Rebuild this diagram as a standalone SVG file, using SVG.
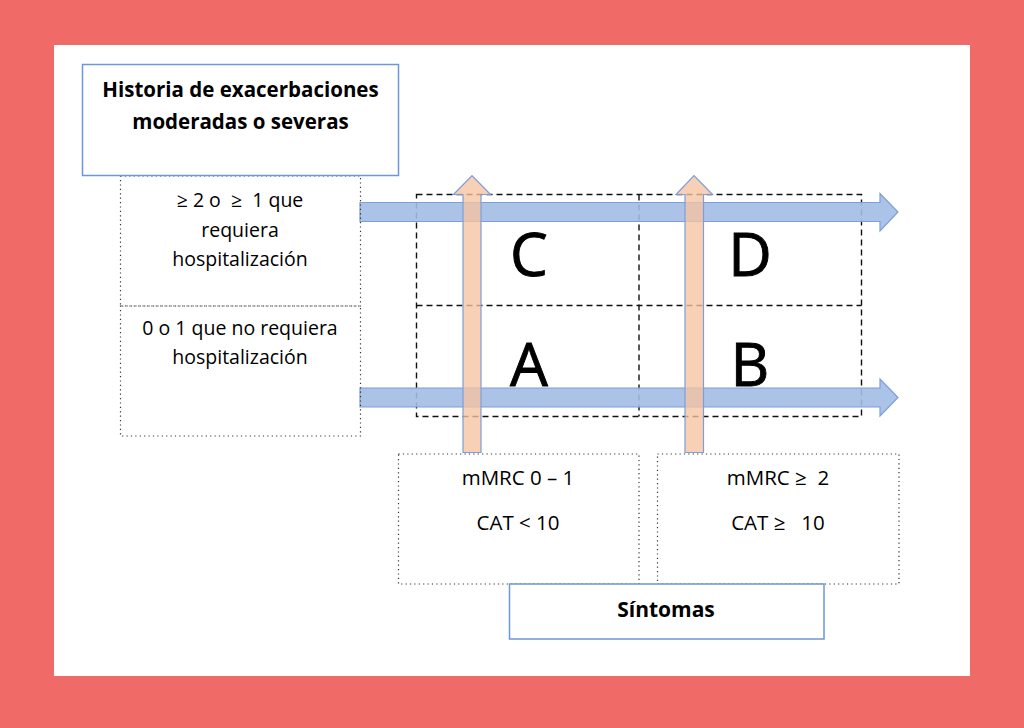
<svg xmlns="http://www.w3.org/2000/svg" width="1024" height="728" viewBox="0 0 1024 728">
<style>
.t{font-family:"Open Sans","Liberation Sans",sans-serif;fill:#000;text-anchor:middle;white-space:pre}
.b{font-weight:bold;font-size:20.5px}
.r{font-size:19.5px}
.s{font-size:20.5px}
.big{font-size:60px;stroke:#000;stroke-width:0.9}
.dot{fill:none;stroke:#333;stroke-width:1.2;stroke-dasharray:1.2 3.2}
.dash{fill:none;stroke:#111;stroke-width:1.4;stroke-dasharray:6 4}
.solid{fill:#fff;stroke:#6E97D8;stroke-width:1.5}
.ha{fill:#A3BCE6;fill-opacity:0.9;stroke:#7C9EDA;stroke-width:1.2}
.va{fill:#F6C3A0;fill-opacity:0.78;stroke:#7C9EDA;stroke-width:1.2}
</style>
<rect x="0" y="0" width="1024" height="728" fill="#F06B68"/>
<rect x="54" y="45" width="916" height="631" fill="#fff"/>

<g id="grid">
<rect class="dash" x="416.5" y="194.5" width="445" height="222"/>
<line class="dash" x1="639" y1="194.5" x2="639" y2="416.5"/>
<line class="dash" x1="416.5" y1="305.5" x2="861.5" y2="305.5"/>
</g>

<g id="connectors">
<polygon class="ha" points="360,202.5 880,202.5 880,193.5 898,212 880,231 880,221.5 360,221.5"/>
<polygon class="ha" points="360,388 880,388 880,379 898,397.5 880,416 880,407 360,407"/>
<polygon class="va" points="463,452.5 463,194.5 453.5,194.5 472,175.5 490.5,194.5 481,194.5 481,452.5"/>
<polygon class="va" points="685,452.5 685,194.5 676,194.5 694,175.5 712.5,194.5 703.5,194.5 703.5,452.5"/>
</g>

<g id="cell-C"><text class="t big" x="529" y="276">C</text></g>
<g id="cell-D"><text class="t big" x="750" y="276">D</text></g>
<g id="cell-A"><text class="t big" x="529" y="386">A</text></g>
<g id="cell-B"><text class="t big" x="750" y="386">B</text></g>

<g id="historia-high">
<rect class="dot" x="120.5" y="176" width="240" height="130"/>
<text class="t r" x="240" y="207" xml:space="preserve">≥ 2 o  ≥  1 que</text>
<text class="t r" x="240" y="237">requiera</text>
<text class="t r" x="240" y="266">hospitalización</text>
</g>
<g id="historia-low">
<rect class="dot" x="120.5" y="306" width="240" height="130"/>
<text class="t r" x="240" y="335">0 o 1 que no requiera</text>
<text class="t r" x="240" y="364">hospitalización</text>
</g>

<g id="historia-title">
<rect class="solid" x="82.5" y="64.5" width="316" height="111"/>
<text class="t b" x="240.5" y="97">Historia de exacerbaciones</text>
<text class="t b" x="240.5" y="129">moderadas o severas</text>
</g>

<g id="sintomas-low">
<rect class="dot" x="398.5" y="454" width="240.5" height="130"/>
<text class="t s" x="518" y="485">mMRC 0 – 1</text>
<text class="t s" x="518" y="530">CAT &lt; 10</text>
</g>
<g id="sintomas-high">
<rect class="dot" x="657.5" y="454" width="241.5" height="130"/>
<text class="t s" x="778" y="485" xml:space="preserve">mMRC ≥  2</text>
<text class="t s" x="778" y="530" xml:space="preserve">CAT ≥   10</text>
</g>

<g id="sintomas-title">
<rect class="solid" x="509.5" y="584" width="314.5" height="55"/>
<text class="t b" x="666" y="617" style="font-size:21px">Síntomas</text>
</g>
</svg>
